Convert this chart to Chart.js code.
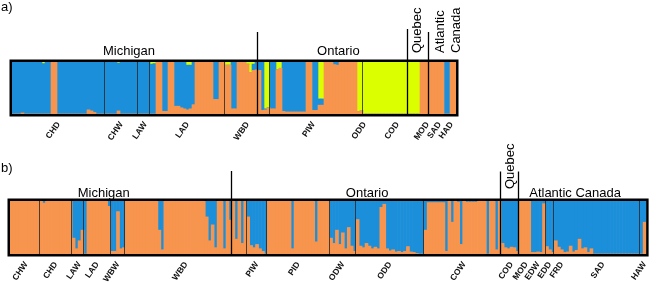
<!DOCTYPE html>
<html>
<head>
<meta charset="utf-8">
<script src="https://cdn.jsdelivr.net/npm/chart.js@4.4.0/dist/chart.umd.min.js"></script>
<style>
  html, body { margin: 0; padding: 0; background: #fff; }
  canvas { position: absolute; left: 0; }
  #panelA { top: 0; }
  #panelB { top: 141px; }
</style>
</head>
<body>
<canvas id="panelA" width="659" height="141"></canvas>
<canvas id="panelB" width="659" height="141"></canvas>
<script>
// ---- panel a: three clusters (orange, blue, yellow), one value per individual, left to right
const popsA = ['CHD', 'CHW', 'LAW', 'LAD', 'WBD', 'PIW', 'ODD', 'COD', 'MOD', 'SAD', 'HAD'];
const popSizesA = [31, 11, 4, 25, 15, 28, 6, 16, 4, 5, 3];
const orangeA = [
  0,0,0,.02,0,0,0,0,0,0,0,0,0,1,1,0,0,0,0,0,0,0,0,0,0,.08,.06,.03,0,0,0,
  0,0,0,0,.06,0,0,0,0,0,0,
  0,0,0,0,
  0,0,1,1,.05,.05,1,1,.15,.15,.12,.1,.08,.1,.18,1,1,1,1,1,1,.28,.28,1,1,
  .94,.94,.1,.1,1,1,1,.96,.8,.84,.85,.84,.07,.08,.12,
  .1,.1,.85,.88,.05,.04,.04,.04,.04,.04,.04,.04,1,1,.07,.07,.17,.17,1,1,1,.95,.94,1,1,1,
  1,1,1,.05,.06,
  0,0,0,0,0,0,0,0,0,0,0,0,0,0,0,
  0,0,0,0,1,1,1,
  1,1,1,1,1,0,
  0,1,1
];
const blueA = [
  1,1,1,.98,1,1,1,1,1,1,.97,1,1,0,0,1,1,1,1,1,1,1,1,1,1,.92,.94,.97,1,1,1,
  1,1,1,1,.92,1,1,1,1,1,1,
  1,1,1,1,
  .96,.97,0,0,.95,.95,0,0,.85,.85,.88,.9,.86,.84,.82,0,0,0,0,0,0,.72,.72,0,0,
  0,0,.9,.9,0,0,0,0,0,.12,.15,.16,.93,.02,0,
  .9,.9,0,0,.95,.96,.96,.96,.96,.96,.96,.96,0,0,.93,.93,.12,.12,0,0,0,.05,.06,0,0,0,
  0,0,0,0,0,
  0,0,0,0,0,0,0,0,0,0,0,0,0,0,0,
  0,0,0,0,0,0,0,
  0,0,0,0,0,1,
  1,0,0
];
const yellowA = [
  0,0,0,0,0,0,0,0,0,0,.03,0,0,0,0,0,0,0,0,0,0,0,0,0,0,0,0,0,0,0,0,
  0,0,0,0,.02,0,0,0,0,0,0,
  0,0,0,0,
  .04,.03,0,0,0,0,0,0,0,0,0,0,.06,.06,0,0,0,0,0,0,0,0,0,0,0,
  .06,.06,0,0,0,0,0,.04,.2,.04,0,0,0,.9,.88,
  0,0,.15,.12,0,0,0,0,0,0,0,0,0,0,0,0,.71,.71,0,0,0,0,0,0,0,0,
  0,0,0,.95,.94,
  1,1,1,1,1,1,1,1,1,1,1,1,1,1,1,
  1,1,1,1,0,0,0,
  0,0,0,0,0,0,
  0,0,0
];
const dividersA = [31, 42, 46, 71, 86, 117];
const regionBreaksA = [82, 132, 139];

// ---- panel b: two clusters (orange, blue)
const popsB = ['CHW', 'CHD', 'LAW', 'LAD', 'WBW', 'WBD', 'PIW', 'PID', 'ODW', 'ODD',
               'COW', 'COD', 'MOD', 'EDW', 'EDD', 'FRD', 'SAD', 'HAW'];
const popSizesB = [10, 11, 4, 9, 5, 41, 7, 21, 9, 23, 26, 6, 4, 5, 3, 4, 25, 2];
const orangeB = [
  1,1,1,1,1,1,1,1,1,1,                                   // CHW
  1,.96,1,1,1,1,1,1,1,1,1,                               // CHD
  .3,.1,.25,.45,                                         // LAW
  0,1,1,1,1,1,1,1,.9,                                    // LAD
  .05,.05,.8,.1,.12,                                     // WBW
  1,1,1,1,1,1,1,1,1,1,1,.45,.08,1,1,1,1,1,1,1,1,1,1,1,1,1,1,
  .7,.25,.55,.12,1,1,.1,1,.64,1,.28,1,.2,1,              // WBD
  .7,.16,.12,.18,.1,.05,0,                               // PIW
  1,1,1,1,1,1,1,1,.1,1,1,1,1,1,1,1,.23,1,1,1,1,          // PID
  .3,.2,.45,.18,.4,.1,.5,.15,.05,                        // ODW
  .65,.15,.12,.2,.15,.1,.13,.1,.88,.94,.1,.06,.08,.04,.05,.03,.05,.14,.04,.03,.01,0,0, // ODD
  .45,.97,.97,.97,.97,.97,.97,.05,1,.6,1,.98,.18,1,.98,.98,.98,.98,1,1,1,0,1,1,.08,1, // COW
  .2,.12,.1,.13,.12,.05,                                 // COD
  1,1,1,1,                                               // MOD
  .03,.03,.04,.03,.95,                                   // EDW
  .14,.08,.03,                                           // EDD
  .25,.13,.08,.03,                                       // FRD
  .04,.15,.04,.07,.28,.1,.12,.03,.1,0,0,0,0,0,0,0,0,0,0,0,0,0,0,0,0, // SAD
  0,.6                                                   // HAW
];
const blueB = [
  0,0,0,0,0,0,0,0,0,0,
  0,.04,0,0,0,0,0,0,0,0,0,
  .7,.9,.75,.55,
  1,0,0,0,0,0,0,0,.1,
  .95,.95,.2,.9,.88,
  0,0,0,0,0,0,0,0,0,0,0,.55,.92,0,0,0,0,0,0,0,0,0,0,0,0,0,0,
  .3,.75,.45,.88,0,0,.9,0,.36,0,.72,0,.8,0,
  .3,.84,.88,.82,.9,.95,1,
  0,0,0,0,0,0,0,0,.9,0,0,0,0,0,0,0,.77,0,0,0,0,
  .7,.8,.55,.82,.6,.9,.5,.85,.95,
  .35,.85,.88,.8,.85,.9,.87,.9,.12,.06,.9,.94,.92,.96,.95,.97,.95,.86,.96,.97,.99,1,1,
  .55,.03,.03,.03,.03,.03,.03,.95,0,.4,0,.02,.82,0,.02,.02,.02,.02,0,0,0,1,0,0,.92,0,
  .8,.88,.9,.87,.88,.95,
  0,0,0,0,
  .97,.97,.96,.97,.05,
  .86,.92,.97,
  .75,.87,.92,.97,
  .96,.85,.96,.93,.72,.9,.88,.97,.9,1,1,1,1,1,1,1,1,1,1,1,1,1,1,1,1,
  1,.4
];
const dividersB = [10, 21, 25, 34, 39, 80, 87, 108, 117, 140, 181, 184, 213];
const regionBreaksB = [75, 166, 172];

const ORANGE = '#f7944d';
const BLUE = '#1c8fda';
const YELLOW = '#dcff00';

// frame, population dividers, region dividers and region names
const structureFrame = {
  id: 'structureFrame',
  afterDatasetsDraw(chart, args, o) {
    const { ctx, chartArea: a, scales: { x } } = chart;
    const edge = i => Math.round(x.getPixelForValue(i - 0.5));
    ctx.save();

    ctx.strokeStyle = 'rgba(35,35,35,0.8)';
    ctx.lineWidth = 1;
    o.dividers.forEach(d => {
      const px = edge(d) - 0.5;
      ctx.beginPath();
      ctx.moveTo(px, a.top);
      ctx.lineTo(px, a.bottom);
      ctx.stroke();
    });

    ctx.strokeStyle = '#000';
    ctx.lineWidth = 1.3;
    o.breaks.forEach((b, k) => {
      const px = edge(b) - 0.5;
      ctx.beginPath();
      ctx.moveTo(px, o.breakTops[k]);
      ctx.lineTo(px, a.bottom);
      ctx.stroke();
    });

    ctx.lineWidth = 2.5;
    ctx.strokeRect(a.left - 1.25, a.top - 1.25, a.width + 2.5, a.height + 2.5);

    ctx.fillStyle = '#000';
    ctx.font = '13px Arial';
    ctx.textAlign = 'left';
    ctx.textBaseline = 'top';
    ctx.fillText(o.tag, 1, o.tagY);

    o.regions.forEach(r => {
      const px = x.getPixelForValue(r.at);
      if (r.vertical) {
        ctx.save();
        ctx.translate(px, o.verticalBase);
        ctx.rotate(-Math.PI / 2);
        ctx.textAlign = 'left';
        ctx.textBaseline = 'middle';
        ctx.fillText(r.text, 0, 0);
        ctx.restore();
      } else {
        ctx.textAlign = 'center';
        ctx.textBaseline = 'alphabetic';
        ctx.fillText(r.text, px, o.textBase);
      }
    });
    ctx.restore();
  }
};

function makePanel(canvasId, pops, sizes, series, frameOpts, padding, axisHeight) {
  const labels = series[0].data.map((_, i) => String(i));
  // population name sits under the middle individual of each population
  const tickText = labels.map(() => '');
  let start = 0;
  sizes.forEach((s, k) => {
    tickText[start + Math.floor(s / 2)] = pops[k];
    start += s;
  });

  return new Chart(document.getElementById(canvasId), {
    type: 'bar',
    data: {
      labels: labels,
      datasets: series.map(s => ({
        data: s.data,
        backgroundColor: s.color,
        borderWidth: 0,
        barPercentage: 1,
        categoryPercentage: 1
      }))
    },
    options: {
      responsive: false,
      animation: false,
      devicePixelRatio: 1,
      layout: { padding: padding },
      scales: {
        x: {
          stacked: true,
          grid: { display: false, drawTicks: false },
          border: { display: false },
          afterFit: scale => { scale.height = axisHeight; },
          ticks: {
            autoSkip: false,
            minRotation: 55,
            maxRotation: 55,
            padding: 6,
            color: '#111',
            font: { family: 'Arial', size: 8.5, weight: 'bold' },
            callback: (v, i) => tickText[i]
          }
        },
        y: { stacked: true, display: false, min: 0, max: 1 }
      },
      plugins: {
        legend: { display: false },
        tooltip: { enabled: false },
        structureFrame: frameOpts
      }
    },
    plugins: [structureFrame]
  });
}

makePanel('panelA', popsA, popSizesA, [
  { data: orangeA, color: ORANGE },
  { data: blueA, color: BLUE },
  { data: yellowA, color: YELLOW }
], {
  tag: 'a)', tagY: 1,
  dividers: dividersA,
  breaks: regionBreaksA,
  breakTops: [32, 29, 32],
  textBase: 55,
  verticalBase: 53,
  regions: [
    { text: 'Michigan', at: 38.5 },
    { text: 'Ontario', at: 108.3 },
    { text: 'Quebec', at: 134.8, vertical: true },
    { text: 'Atlantic', at: 142.2, vertical: true },
    { text: 'Canada', at: 147.8, vertical: true }
  ]
}, { left: 12, right: 203, top: 62, bottom: 0 }, 27);

makePanel('panelB', popsB, popSizesB, [
  { data: orangeB, color: ORANGE },
  { data: blueB, color: BLUE }
], {
  tag: 'b)', tagY: 21,
  dividers: dividersB,
  breaks: regionBreaksB,
  breakTops: [30, 30.5, 30.5],
  textBase: 55.5,
  verticalBase: 48,
  regions: [
    { text: 'Michigan', at: 31.2 },
    { text: 'Ontario', at: 120.2 },
    { text: 'Quebec', at: 168.7, vertical: true },
    { text: 'Atlantic Canada', at: 190.5 }
  ]
}, { left: 10, right: 4, top: 60, bottom: 0 }, 28);
</script>
</body>
</html>
